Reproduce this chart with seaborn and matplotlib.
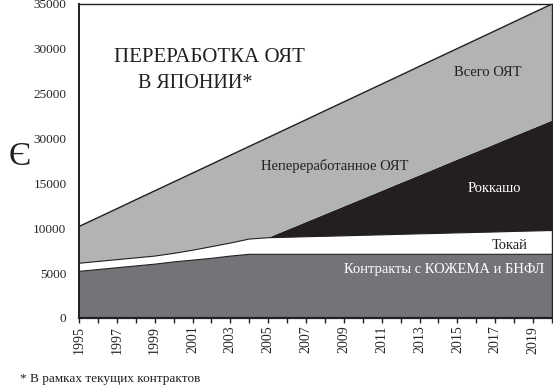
import matplotlib
matplotlib.use("Agg")
import matplotlib.pyplot as plt
import seaborn as sns
import numpy as np
import pandas as pd

years = list(range(1995, 2021))
contracts = [5200, 5400, 5600, 5800, 6000, 6250, 6450, 6650, 6900, 7100,
             7100, 7100, 7100, 7100, 7100, 7100, 7100, 7100, 7100, 7100,
             7100, 7100, 7100, 7100, 7100, 7100]
tokai = [900, 900, 900, 900, 900, 950, 1100, 1300, 1450, 1700,
         1850, 1900, 1960, 2010, 2060, 2120, 2170, 2230, 2280, 2330,
         2390, 2440, 2490, 2550, 2600, 2650]
rokkasho = [0, 0, 0, 0, 0, 0, 0, 0, 0, 0,
            0, 820, 1630, 2450, 3270, 4080, 4900, 5720, 6530, 7350,
            8170, 8980, 9800, 10620, 11430, 12250]
total = [10200, 11190, 12180, 13180, 14170, 15160, 16150, 17140, 18140, 19130,
         20120, 21110, 22100, 23100, 24090, 25080, 26070, 27060, 28060, 29050,
         30040, 31030, 32020, 33020, 34010, 35000]
ytick_values = [0, 5000, 10000, 15000, 20000, 25000, 30000, 35000]
ytick_labels = ["0", "5000", "10000", "15000", "30000", "25000", "30000", "35000"]

df = pd.DataFrame({"year": years, "contracts": contracts, "tokai": tokai,
                   "rokkasho": rokkasho, "total": total})
df["unprocessed"] = df["total"] - df["contracts"] - df["tokai"] - df["rokkasho"]

sns.set_theme(style="ticks")
plt.rcParams["font.family"] = ["Liberation Serif", "DejaVu Serif"]

fig = plt.figure(figsize=(5.53, 3.87), dpi=100)
ax = fig.add_axes([79/553, 1-318/387, 473/553, 314/387])

colors = ["#737478", "#ffffff", "#231f20", "#b2b3b5"]
ax.stackplot(df["year"], df["contracts"], df["tokai"], df["rokkasho"], df["unprocessed"],
             colors=colors, edgecolor="none")
# boundary lines
sns.lineplot(x=df["year"], y=df["total"], ax=ax, color="#231f20", lw=1.0)
sns.lineplot(x=df["year"], y=df["contracts"], ax=ax, color="#231f20", lw=0.8)
top_tokai = df["contracts"] + df["tokai"]
sns.lineplot(x=df["year"], y=top_tokai, ax=ax, color="#231f20", lw=0.8)

ax.set_xlim(1995, 2020)
ax.set_ylim(0, 35000)
ax.set_xlabel("")
ax.set_ylabel("")
ax.set_xticks(years, minor=False)
ax.set_xticklabels([str(y) if (y - 1995) % 2 == 0 and y < 2020 else "" for y in years],
                   rotation=90, fontsize=10)
ax.tick_params(axis="x", direction="inout", length=7, width=1, color="#231f20", pad=2)
ax.set_yticks(ytick_values)
ax.set_yticklabels(ytick_labels, fontsize=9.5)
ax.tick_params(axis="y", length=0, pad=9)
for s in ax.spines.values():
    s.set_color("#231f20")
    s.set_linewidth(1.0)
ax.spines["bottom"].set_linewidth(1.6)
ax.spines["left"].set_linewidth(1.4)

def ft(x, y, s, **kw):
    fig.text(x/553, 1-y/387, s, ha="center", va="center", **kw)

ft(209, 58, "ПЕРЕРАБОТКА ОЯТ", fontsize=15, color="#231f20")
fig.text(138/553, 1-83/387, "В ЯПОНИИ*", ha="left", va="center", fontsize=14.5, color="#231f20")
ft(488, 72, "Всего ОЯТ", fontsize=10.5, color="#231f20")
ft(335, 166, "Непереработанное ОЯТ", fontsize=10.5, color="#231f20")
ft(494, 188, "Роккашо", fontsize=10.5, color="white")
ft(510, 245, "Токай", fontsize=10.5, color="#231f20")
ft(444, 270, "Контракты с КОЖЕМА и БНФЛ", fontsize=10.5, color="white")
ft(20, 157, "Є", fontsize=24, color="#231f20")
fig.text(20/553, 1-379/387, "* В рамках текущих контрактов", ha="left", va="center",
         fontsize=9.5, color="#231f20")

fig.savefig("out.png", dpi=100)
